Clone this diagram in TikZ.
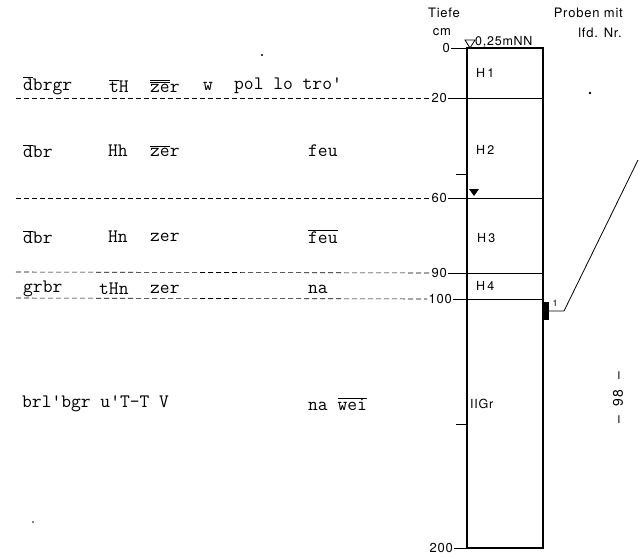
\documentclass[tikz,border=0pt]{standalone}
\usepackage{fontspec}
\newfontfamily\heros{TeX Gyre Heros}[LetterSpace=6]
\usetikzlibrary{positioning}
\newcommand{\obar}[1]{\ensuremath{\overline{\mbox{#1}}}}
\newcommand{\obarr}[1]{\ensuremath{\overline{\overline{\mbox{#1}}}}}

\tikzset{
  field/.style={font=\fontsize{19}{22}\selectfont\ttfamily, anchor=west, inner sep=0pt},
  lbl/.style={font=\heros\fontsize{13}{15}\selectfont, inner sep=1pt},
  depth/.style={font=\heros\fontsize{13}{15}\selectfont, anchor=east, inner sep=1pt},
  hor/.style={font=\heros\fontsize{12.5}{14}\selectfont, anchor=west, inner sep=0pt},
  guide/.style={line width=0.6pt, dash pattern=on 5pt off 3pt},
  tick/.style={line width=0.8pt},
  bound/.style={line width=0.9pt}
}

\begin{document}
\begin{tikzpicture}[x=1pt, y=-1pt]
    \useasboundingbox (0,0) rectangle (640,558);

    % Header
    \node[lbl] (TIEFE) at (444,13) {Tiefe};
    \node[lbl] (CM) at (442,32) {cm};
    \node[lbl, anchor=east] (PROBEN) at (624,13) {Proben mit};
    \node[lbl, anchor=east] (LFD) at (623,33) {lfd. Nr.};
    \node[lbl, anchor=west, font=\heros\fontsize{12.5}{14}\selectfont, inner sep=0pt] (NN) at (475,42) {0,25mNN};

    % Profile column
    \coordinate (L0) at (467,48);   \coordinate (R0) at (543,48);
    \coordinate (L20) at (467,98);  \coordinate (R20) at (543,98);
    \coordinate (L50) at (467,174);
    \coordinate (L60) at (467,198); \coordinate (R60) at (543,198);
    \coordinate (L90) at (467,273); \coordinate (R90) at (543,273);
    \coordinate (L100) at (467,299); \coordinate (R100) at (543,299);
    \coordinate (L150) at (467,424);
    \coordinate (L200) at (467,548); \coordinate (R200) at (543,548);
    \draw[line width=1.2pt] (L0) -- (R0) -- (R200) -- (L200) -- cycle;
    \draw[bound] (L20) -- (R20);
    \draw[bound] (L60) -- (R60);
    \draw[bound] (L90) -- (R90);
    \draw[bound] (L100) -- (R100);

    % Depth scale
    \node[depth] (D0) at (451,48) {0};
    \node[depth] (D20) at (448,98) {20};
    \node[depth] (D60) at (448,198) {60};
    \node[depth] (D90) at (448,273) {90};
    \node[depth] (D100) at (453,299) {100};
    \node[depth] (D200) at (454,548) {200};
    \draw[tick] (D0) -- (L0);
    \draw[tick] (D20) -- (L20);
    \draw[tick] (D60) -- (L60);
    \draw[tick] (D90) -- (L90);
    \draw[tick] (D100) -- (L100);
    \draw[tick] (D200) -- (L200);
    \draw[tick] (L50) -- ++(-11,0);
    \draw[tick] (L150) -- ++(-11,0);

    % Water levels
    \draw[line width=0.8pt] (465,40) -- (475,40) -- (470,48) -- cycle;
    \fill (469,189) -- (479,189) -- (474,196) -- cycle;

    % Horizons
    \node[hor] (H1) at (476,73) {H\,1};
    \node[hor] (H2) at (476,150) {H\,2};
    \node[hor] (H3) at (477,238) {H\,3};
    \node[hor] (H4) at (476,286) {H\,4};
    \node[hor] (IIGR) at (470,404) {IIGr};

    % Field notes
    \node[field] (A1) at (23,86) {\obar{d}brgr};
    \node[field] (A2) at (109,86) {\obar{t}H};
    \node[field] (A3) at (150,86) {\obarr{ze}r};
    \node[field] (A4) at (203,86) {w};
    \node[field] (A5) at (234,86) {pol lo tro'};

    \node[field] (B1) at (23,151) {\obar{d}br};
    \node[field] (B2) at (108,151) {Hh};
    \node[field] (B3) at (150,151) {\obar{ze}r};
    \node[field] (B4) at (308,151) {feu};

    \node[field] (C1) at (23,237) {\obar{d}br};
    \node[field] (C2) at (108,237) {Hn};
    \node[field] (C3) at (150,237) {zer};
    \node[field] (C4) at (308,237) {\obar{feu}};

    \node[field] (E1) at (23,289) {grbr};
    \node[field] (E2) at (99,289) {tHn};
    \node[field] (E3) at (150,289) {zer};
    \node[field] (E4) at (308,289) {na};

    \node[field] (F1) at (22,404) {brl'bgr u'T-T V};
    \node[field] (F2) at (308,404) {na \obar{wei}};

    % Layer guides
    \coordinate (S20) at (16,98);
    \coordinate (S60) at (16,198);
    \coordinate (S90) at (16,272);
    \coordinate (S100) at (16,298);
    \draw[guide] (S20) -- (D20.west);
    \draw[guide] (S60) -- (D60.west);
    \draw[guide] (S90) -- (D90.west);
    \draw[guide] (S100) -- (D100.west);

    % Sample
    \node[fill, minimum width=7pt, minimum height=18pt, inner sep=0pt] (SMP) at (545.5,311) {};
    \node[font=\heros\fontsize{9}{10}\selectfont, inner sep=0pt] (N1) at (555,303) {1};
    \coordinate (KNEE) at (564,311);
    \coordinate (LEAD) at (638,160);
    \draw[line width=0.8pt] (SMP.east) -- (KNEE) -- (LEAD);

    % Page number and specks
    \node[font=\heros\fontsize{14}{16}\selectfont, rotate=90] (PAGE) at (618,398) {\textendash\hspace{10pt}98\hspace{10pt}\textendash};
    \fill (262,55) circle (1.1);
    \fill (590,93) circle (1.4);
    \fill (33,522) circle (0.9);
\end{tikzpicture}
\end{document}
